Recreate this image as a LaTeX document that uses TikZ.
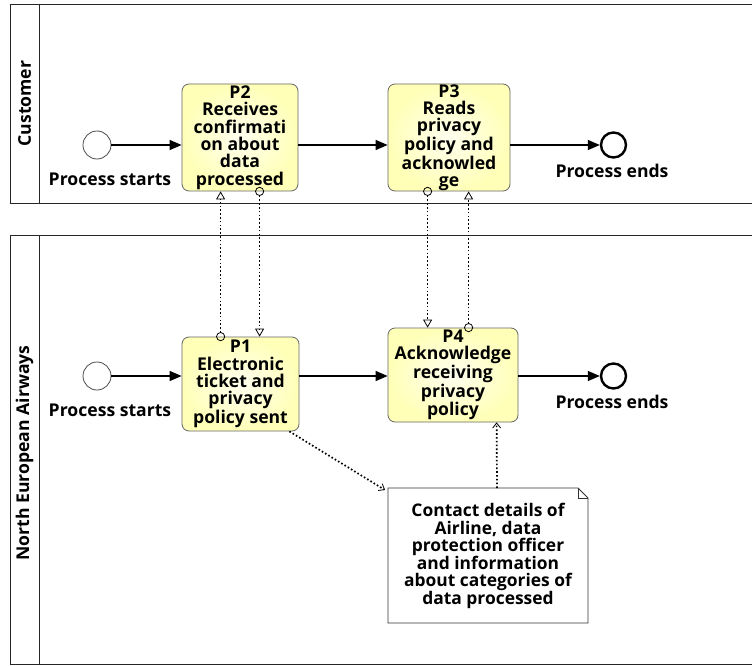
\documentclass[tikz,border=0pt]{standalone}
\usepackage{fontspec}
\setmainfont{Open Sans}
\usetikzlibrary{arrows.meta,calc}
\begin{document}
\begin{tikzpicture}[x=1pt,y=-1pt,
  pool/.style={draw=black!85,line width=0.9pt},
  lanelabel/.style={rotate=90,font=\fontsize{17.6}{20}\selectfont\bfseries},
  task/.style={draw=black!60,line width=0.8pt,rounded corners=7pt,
    inner color=yellow!6,outer color=yellow!28,
    align=center,inner sep=0pt,
    font=\fontsize{17.6}{17.4}\selectfont\bfseries},
  startev/.style={circle,draw=black!70,line width=0.8pt,fill=white,minimum size=28pt,inner sep=0pt},
  endev/.style={circle,draw=black,line width=2.4pt,fill=white,minimum size=25pt,inner sep=0pt},
  evlabel/.style={font=\fontsize{17.6}{17.4}\selectfont\bfseries},
  seq/.style={line width=1.4pt,-{Triangle[length=12pt,width=10pt]}},
  msg/.style={line width=1.7pt,dash pattern=on 1.6pt off 2.2pt,
    {Circle[open,length=9pt,width=9pt,line width=0.8pt,sep=-4.5pt]}-{Triangle[open,length=8pt,width=9pt,line width=0.8pt]}},
  assoc/.style={line width=1.7pt,dash pattern=on 1.6pt off 2.2pt,
    -{Straight Barb[length=5pt,width=8pt,line width=0.8pt]}},
  notetext/.style={font=\fontsize{17.4}{17.6}\selectfont\bfseries,align=center}
]
\useasboundingbox (0,0) rectangle (752,666);
\clip (0,0) rectangle (752,666);
\fill[white] (0,0) rectangle (752,666);

% pools and their header bands
\draw[pool] (10,4) rectangle (780,203);
\draw[pool] (39,4) -- (39,203);
\draw[pool] (10,235) rectangle (780,664);
\draw[pool] (39,235) -- (39,664);
\node[lanelabel] (lc) at (24.5,103.5) {Customer};
\node[lanelabel] (la) at (24.5,453) {North European Airways};

% Customer lane
\node[startev] (s1) at (97,145) {};
\node[evlabel] (s1l) at (110,179) {Process starts};
\node[task,minimum width=116pt,minimum height=107pt] (P2) at (240,137.5)
  {P2\\Receives\\confirmati\\on about\\data\\processed};
\node[task,minimum width=122pt,minimum height=107pt] (P3) at (449,137.5)
  {P3\\Reads\\privacy\\policy and\\acknowled\\ge};
\node[endev] (e1) at (613.5,145) {};
\node[evlabel] (e1l) at (612,171) {Process ends};

% Airline lane
\node[startev] (s2) at (97,376) {};
\node[evlabel] (s2l) at (110,410) {Process starts};
\node[task,minimum width=117pt,minimum height=94pt] (P1) at (240.5,384)
  {P1\\Electronic\\ticket and\\privacy\\policy sent};
\node[task,minimum width=130pt,minimum height=94pt] (P4) at (453,375)
  {P4\\Acknowledge\\receiving\\privacy\\policy};
\node[endev] (e2) at (613.5,376) {};
\node[evlabel] (e2l) at (612,402) {Process ends};

% data note with folded corner
\coordinate (nA) at (388,488);
\draw[black!80,line width=0.9pt,fill=white]
  (nA) -- (578,488) -- (588,498) -- (588,623) -- (388,623) -- cycle;
\draw[black!80,line width=0.9pt] (578,488) -- (578,498) -- (588,498);
\node[notetext] (note) at (488,556)
  {Contact details of\\Airline, data\\protection officer\\and information\\about categories of\\data processed};

% sequence flows
\draw[seq] (s1) -- (P2.west |- s1);
\draw[seq] (P2.east |- s1) -- (P3.west |- s1);
\draw[seq] (P3.east |- s1) -- (e1);
\draw[seq] (s2) -- (P1.west |- s2);
\draw[seq] (P1.east |- s2) -- (P4.west |- s2);
\draw[seq] (P4.east |- s2) -- (e2);

% message flows between the lanes
\draw[msg] ($(P1.north west)+(39,0)$) -- ($(P2.south west)+(39,0)$);
\draw[msg] ($(P2.south west)+(78,0)$) -- ($(P1.north west)+(78,0)$);
\draw[msg] ($(P3.south west)+(40,0)$) -- ($(P4.north west)+(40,0)$);
\draw[msg] ($(P4.north west)+(81,0)$) -- ($(P3.south west)+(81,0)$);

% associations with the note
\draw[assoc] ($(P1.south east)+(-10,0)$) -- ($(nA)+(-3,2)$);
\draw[assoc] ($(nA)+(109,0)$) -- ($(P4.south west)+(109,0)$);
\end{tikzpicture}
\end{document}
